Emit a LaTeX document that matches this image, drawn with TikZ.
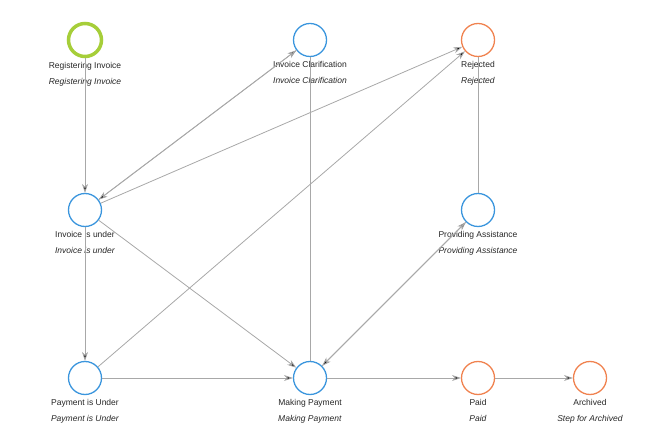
\documentclass[tikz,border=0pt]{standalone}
\usepackage{fontspec}
\setmainfont{Liberation Sans}
\usetikzlibrary{arrows.meta,positioning}
\definecolor{stepblue}{HTML}{3A95DD}
\definecolor{steporange}{HTML}{F0824F}
\definecolor{stepgreen}{HTML}{A6CE39}
\definecolor{edgegray}{HTML}{A8A8A8}
\tikzset{
  state/.style={circle, draw=stepblue, line width=1.3pt, minimum size=33pt, inner sep=0pt},
  endstate/.style={state, draw=steporange},
  startstate/.style={state, draw=stepgreen, line width=3.5pt, minimum size=33pt},
  flow/.style={draw=edgegray, line width=0.8pt, -{Stealth[length=9pt,width=6pt]}},
  tag/.style={font=\fontsize{8.5}{15.5}\selectfont, align=center, text=black!85, label distance=1pt}
}
\newcommand{\steplabel}[2]{#1\\\textit{#2}}
\begin{document}
\begin{tikzpicture}[x=1pt,y=-1pt]
  \useasboundingbox (0,0) rectangle (650,443);
  \node[startstate, label={[tag]below:\steplabel{Registering Invoice}{Registering Invoice}}] (reg) at (85,40) {};
  \node[state, label={[tag]below:\steplabel{Invoice Clarification}{Invoice Clarification}}] (clar) at (310,40) {};
  \node[endstate, label={[tag]below:\steplabel{Rejected}{Rejected}}] (rej) at (478,40) {};
  \node[state, label={[tag]below:\steplabel{Invoice is under}{Invoice is under}}] (under) at (85,210) {};
  \node[state, label={[tag]below:\steplabel{Providing Assistance}{Providing Assistance}}] (assist) at (478,210) {};
  \node[state, label={[tag]below:\steplabel{Payment is Under}{Payment is Under}}] (payunder) at (85,378) {};
  \node[state, label={[tag]below:\steplabel{Making Payment}{Making Payment}}] (making) at (310,378) {};
  \node[endstate, label={[tag]below:\steplabel{Paid}{Paid}}] (paid) at (478,378) {};
  \node[endstate, label={[tag]below:\steplabel{Archived}{Step for Archived}}] (arch) at (590,378) {};

  \path[flow]
  (reg) edge (under)
  (under) edge (clar)
          edge (rej)
          edge (making)
          edge (payunder)
  (clar) edge (under)
  (payunder) edge (rej)
             edge (making)
  (making) edge (assist)
           edge (paid)
  (assist) edge (making)
  (paid) edge (arch);
  \path[flow, -]
  (making) edge (clar)
  (assist) edge (rej);
\end{tikzpicture}
\end{document}
